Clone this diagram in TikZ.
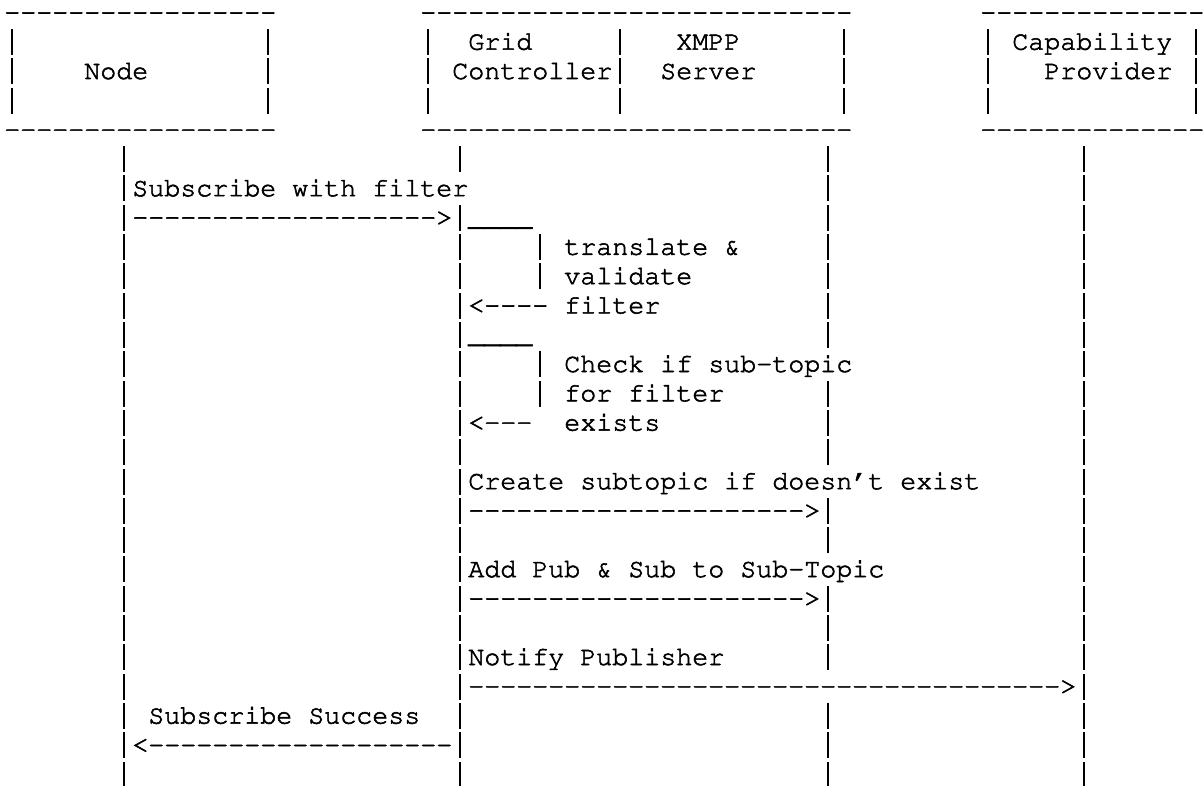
\documentclass[tikz,border=0pt]{standalone}
% Courier (psnfss) when available, otherwise a Courier-metric mono face
\IfFileExists{t1pcr.fd}{%
  \usepackage[T1]{fontenc}%
  \renewcommand\ttdefault{pcr}%
}{%
  \usepackage{fontspec}%
  \setmonofont{Liberation Mono}%
}

% slightly heavier glyphs: fill and stroke the text outlines
\newcommand\heavy{\special{pdf:literal direct 2 Tr 0.28 w}}

\tikzset{
  txt/.style={inner sep=0pt, outer sep=0pt, anchor=base west, text=black,
              font=\ttfamily\fontsize{13.333pt}{14.65pt}\selectfont\heavy},
}
% one character cell is 16 x 29.3 units; #2 = column, #3 = row
\newcommand\cell[4]{\node[txt] (#1) at ({4.3+16*(#2)},{20.4+29.3*(#3)}) {#4};}
% a run of separate hyphens (no ligatures)
\newcommand\hy[1]{\foreach\k in {1,...,#1}{-}}
% vertical bar filling nearly the whole line height of one cell
\newcommand\vb{\makebox[8pt]{\rule[-2.65pt]{0.9pt}{13pt}}}

\begin{document}
\begin{tikzpicture}[x=0.5pt, y=-0.5pt]
\useasboundingbox (0,0) rectangle (1204,786);

% ---- participant boxes ----
\foreach \r in {0,4}{
  \cell{nodetop\r}{0}{\r}{\hy{17}}
  \cell{gctop\r}{26}{\r}{\hy{27}}
  \cell{captop\r}{61}{\r}{\hy{14}}
}
\foreach \r in {1,2,3}{
  \foreach \c in {0,16,26,38,52,61,74}{
    \cell{side\c r\r}{\c}{\r}{\vb}
  }
}
\cell{grid}{29}{1}{Grid}
\cell{xmpp}{42}{1}{XMPP}
\cell{capab}{63}{1}{Capability}
\cell{nodelbl}{5}{2}{Node}
\cell{ctrl}{28}{2}{Controller}
\cell{server}{41}{2}{Server}
\cell{provider}{65}{2}{Provider}

% ---- lifelines ----
\foreach \r in {5,...,26}{
  \cell{lnode\r}{7}{\r}{\vb}
  \cell{lcap\r}{67}{\r}{\vb}
}
\foreach \r in {5,7,8,9,10,11,12,13,14,15,16,17,18,19,20,21,22,23,24,25,26}{
  \cell{lgc\r}{28}{\r}{\vb}
}
\foreach \r in {5,6,7,8,9,10,11,13,14,15,17,18,20,21,22,24,25,26}{
  \cell{lxmpp\r}{51}{\r}{\vb}
}

% ---- subscribe request ----
\cell{subreq}{8}{6}{Subscribe with filter}
\cell{subarr}{8}{7}{\hy{19}>}

% ---- translate & validate loop ----
\cell{loopatop}{29}{7}{\_\_\_\_}
\cell{loopa8}{33}{8}{\vb}
\cell{loopa9}{33}{9}{\vb}
\cell{transl}{35}{8}{translate \&}
\cell{valid}{35}{9}{validate}
\cell{loopaback}{29}{10}{<\hy{4}}
\cell{filt}{35}{10}{filter}

% ---- sub-topic check loop ----
\cell{loopbtop}{29}{11}{\_\_\_\_}
\cell{loopb12}{33}{12}{\vb}
\cell{loopb13}{33}{13}{\vb}
\cell{check}{35}{12}{Check if sub-topic}
\cell{forfilt}{35}{13}{for filter}
\cell{loopbback}{29}{14}{<\hy{3}}
\cell{exists}{35}{14}{exists}

% ---- messages to XMPP server ----
\cell{create}{29}{16}{Create subtopic if doesn't exist}
\cell{createarr}{29}{17}{\hy{21}>}
\cell{addpub}{29}{19}{Add Pub \& Sub to Sub-Topic}
\cell{addarr}{29}{20}{\hy{21}>}

% ---- notify capability provider ----
\cell{notify}{29}{22}{Notify Publisher}
\cell{notifyarr}{29}{23}{\hy{37}>}

% ---- reply to node ----
\cell{success}{9}{24}{Subscribe Success}
\cell{successarr}{8}{25}{<\hy{19}}
\end{tikzpicture}
\end{document}
